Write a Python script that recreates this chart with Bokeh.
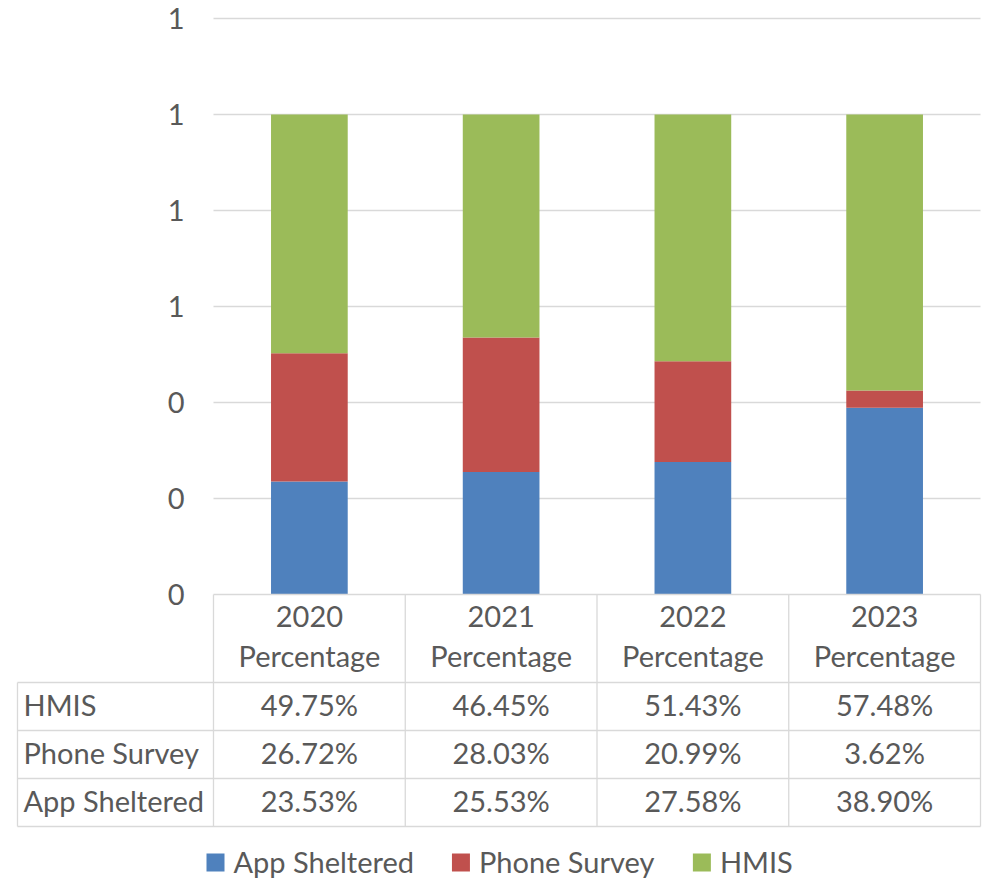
from bokeh.plotting import figure
from bokeh.models import ColumnDataSource, Range1d
from bokeh.core.properties import value
from bokeh.embed import file_html
from bokeh.resources import INLINE

# ---- data ----
years = ["2020", "2021", "2022", "2023"]
col_label = "Percentage"
series = ["App Sheltered", "Phone Survey", "HMIS"]
app_sheltered = [0.2353, 0.2553, 0.2758, 0.3890]
phone_survey = [0.2672, 0.2803, 0.2099, 0.0362]
hmis = [0.4975, 0.4645, 0.5143, 0.5748]
y_ticks = [0.0, 0.2, 0.4, 0.6, 0.8, 1.0, 1.2]
y_tick_labels = ["0", "0", "0", "1", "1", "1", "1"]
table_rows = ["HMIS", "Phone Survey", "App Sheltered"]
colors = ["#4f81bd", "#c0504d", "#9bbb59"]

# ---- layout constants ----
W, H = 983, 880
PX_X = 191.75     # px per category
X0_PX = 213.0     # px of x=0
PX_Y = 480.0      # px per unit
Y0_PX = 594.0     # px of y=0
FONT = value("Lato")
FS = "29px"
TXT = "#595959"
GRID = "#d9d9d9"
DY = 2.5 / PX_Y   # small upward nudge for text

x_start = -X0_PX / PX_X
x_end = (W - X0_PX) / PX_X
y_end = Y0_PX / PX_Y
y_start = -(H - Y0_PX) / PX_Y

p = figure(width=W, height=H, output_backend="svg", toolbar_location=None,
           x_range=Range1d(x_start, x_end), y_range=Range1d(y_start, y_end),
           min_border=0, outline_line_color=None)
p.axis.visible = False
p.grid.visible = False
p.background_fill_color = "white"

n = len(years)
xs = [i + 0.5 for i in range(n)]

# gridlines (above 0)
gy = [t for t in y_ticks if t > 0]
p.segment(x0=[0] * len(gy), x1=[n] * len(gy), y0=gy, y1=gy,
          line_color=GRID, line_width=1.3)

# y tick labels
p.text(x=[-29 / PX_X] * len(y_ticks), y=y_ticks, text=y_tick_labels,
       text_font=FONT, text_font_size=FS, text_color=TXT,
       text_align="right", text_baseline="middle")

# stacked bars
src = ColumnDataSource(dict(x=xs, app=app_sheltered, phone=phone_survey, hmis=hmis))
p.vbar_stack(["app", "phone", "hmis"], x="x", width=0.4, source=src,
             color=colors, line_color=None)

# ---- data table ----
hdr_h = 88 / PX_Y
row_h = 48 / PX_Y
left = -196 / PX_X
y_hdr = -hdr_h
y_rows = [y_hdr - row_h * (k + 1) for k in range(len(table_rows))]
hy = [0.0, y_hdr] + y_rows
hx0 = [0.0] + [left] * (len(hy) - 1)
p.segment(x0=hx0, x1=[n] * len(hy), y0=hy, y1=hy, line_color=GRID, line_width=1.3)
vx = [left] + list(range(n + 1))
vy0 = [y_hdr] + [0.0] * (n + 1)
p.segment(x0=vx, x1=vx, y0=vy0, y1=[y_rows[-1]] * len(vx), line_color=GRID, line_width=1.3)

# header text
p.text(x=xs, y=[-24 / PX_Y + DY] * n, text=years, text_font=FONT, text_font_size=FS,
       text_color=TXT, text_align="center", text_baseline="middle")
p.text(x=xs, y=[-63 / PX_Y + DY] * n, text=[col_label] * n, text_font=FONT, text_font_size=FS,
       text_color=TXT, text_align="center", text_baseline="middle")

row_vals = {"HMIS": hmis, "Phone Survey": phone_survey, "App Sheltered": app_sheltered}
row_centers = [y_hdr - row_h * (k + 0.5) + DY for k in range(len(table_rows))]
p.text(x=[left + 6 / PX_X] * len(table_rows), y=row_centers, text=table_rows,
       text_font=FONT, text_font_size=FS, text_color=TXT,
       text_align="left", text_baseline="middle")
for k, name in enumerate(table_rows):
    vals = ["%.2f%%" % (v * 100) for v in row_vals[name]]
    p.text(x=xs, y=[row_centers[k]] * n, text=vals, text_font=FONT, text_font_size=FS,
           text_color=TXT, text_align="center", text_baseline="middle")

# ---- legend ----
leg_y = -(268 / PX_Y)
leg_sq_x = [-7 / PX_X, 1.2435, 2.5]
p.rect(x=[sx + 9 / PX_X for sx in leg_sq_x], y=[leg_y] * 3, width=18 / PX_X, height=18 / PX_Y,
       color=colors, line_color=None)
p.text(x=[sx + 27 / PX_X for sx in leg_sq_x], y=[leg_y + DY / 2] * 3, text=series,
       text_font=FONT, text_font_size=FS, text_color=TXT,
       text_align="left", text_baseline="middle")

open("out.html", "w").write(file_html(p, INLINE))
